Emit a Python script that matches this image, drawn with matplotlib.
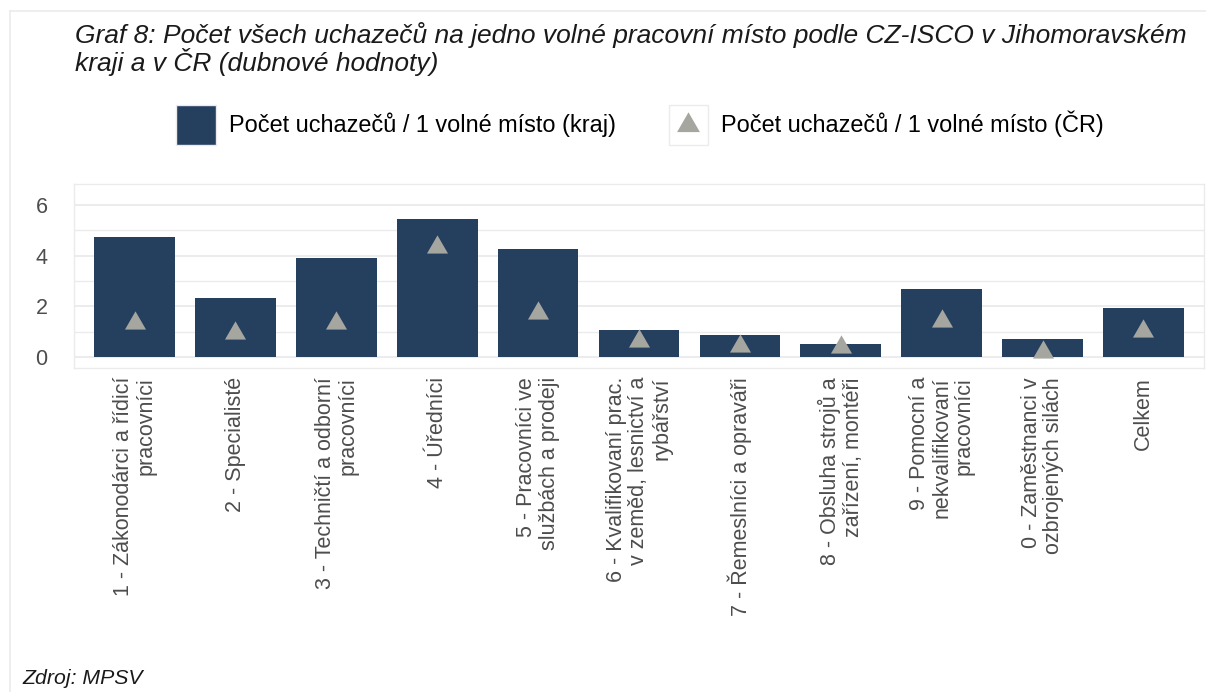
import matplotlib
matplotlib.use("Agg")
import matplotlib.pyplot as plt
from matplotlib.patches import Patch
from matplotlib.lines import Line2D
from matplotlib.legend_handler import HandlerTuple, HandlerLine2D
import numpy as np

plt.rcParams['font.family'] = ['Liberation Sans', 'DejaVu Sans']

categories = [
    "1 - Zákonodárci a řídicí\npracovníci",
    "2 - Specialisté",
    "3 - Techničtí a odborní\npracovníci",
    "4 - Úředníci",
    "5 - Pracovníci ve\nslužbách a prodeji",
    "6 - Kvalifikovaní prac.\nv zeměd, lesnictví a\nrybářství",
    "7 - Řemeslníci a opraváři",
    "8 - Obsluha strojů a\nzařízení, montéři",
    "9 - Pomocní a\nnekvalifikovaní\npracovníci",
    "0 - Zaměstnanci v\nozbrojených silách",
    "Celkem",
]
kraj = [4.75, 2.35, 3.90, 5.46, 4.25, 1.06, 0.87, 0.51, 2.70, 0.71, 1.93]
cr = [1.37, 0.94, 1.37, 4.35, 1.73, 0.66, 0.45, 0.39, 1.44, 0.22, 1.02]
y_ticks = [0, 2, 4, 6]
y_minor = [1, 3, 5]

label_kraj = "Počet uchazečů / 1 volné místo (kraj)"
label_cr = "Počet uchazečů / 1 volné místo (ČR)"
title = ("Graf 8: Počet všech uchazečů na jedno volné pracovní místo podle CZ-ISCO v Jihomoravském\n"
         "kraji a v ČR (dubnové hodnoty)")
source = "Zdroj: MPSV"

NAVY = "#253f5f"
GREY = "#a6a6a1"
GRID = "#ebebeb"
TXT = "#4d4d4d"

W, H = 1206, 692
fig = plt.figure(figsize=(W / 100, H / 100), dpi=100)
ax = fig.add_axes([74 / W, 1 - 368 / H, (1204 - 74) / W, (368 - 184) / H])

x = np.arange(len(categories))
tri = [(0, 2), (-1.732, -1), (1.732, -1)]

ax.set_axisbelow(True)
ax.bar(x, kraj, width=0.8, color=NAVY, zorder=2)
ax.plot(x, cr, linestyle='none', marker=tri, markersize=17.5, color=GREY,
        markeredgewidth=0, zorder=3)

ax.set_xlim(-0.6, 10.6)
ax.set_ylim(-0.42, 6.82)
ax.set_yticks(y_ticks)
ax.set_yticks(y_minor, minor=True)
ax.grid(True, which='major', axis='y', color=GRID, linewidth=1.3)
ax.grid(True, which='minor', axis='y', color=GRID, linewidth=1.0)
ax.set_xticks(x)
ax.set_xticklabels(categories, rotation=90, ha='center', va='top',
                   multialignment='right', fontsize=15.5, color=TXT,
                   linespacing=1.1)
ax.tick_params(axis='both', which='both', length=0, colors=TXT)
ax.tick_params(axis='x', pad=6.5)
ax.tick_params(axis='y', pad=19, labelsize=15.5)
for s in ax.spines.values():
    s.set_color(GRID)
    s.set_linewidth(1.0)

# title & source
fig.text(75 / W, 1 - 22 / H, title, ha='left', va='top', fontsize=19,
         style='italic', color='#1a1a1a', linespacing=1.0)
fig.text(22 / W, 1 - 688 / H, source, ha='left', va='bottom', fontsize=15.3,
         style='italic', color='#1a1a1a')

# outer frame (top & left)
fig.add_artist(Line2D([10 / W, 1], [1 - 11 / H, 1 - 11 / H], color=GRID, lw=1.2))
fig.add_artist(Line2D([10 / W, 10 / W], [0, 1 - 11 / H], color=GRID, lw=1.2))


class CenteredLineHandler(HandlerLine2D):
    def create_artists(self, legend, orig_handle, xdescent, ydescent,
                       width, height, fontsize, trans):
        arts = super().create_artists(legend, orig_handle, xdescent, ydescent,
                                      width, height, fontsize, trans)
        for a in arts:
            yd = np.asarray(a.get_ydata(), dtype=float)
            a.set_ydata(yd - ydescent / 2.0)
        return arts


# legend
h1 = Patch(facecolor=NAVY, edgecolor=GRID, linewidth=1.0)
box = Patch(facecolor='white', edgecolor=GRID, linewidth=1.0)
m2 = Line2D([], [], linestyle='none', marker=tri, markersize=19,
            color=GREY, markeredgewidth=0)
fig.legend([h1, (box, m2)], [label_kraj, label_cr],
           handler_map={tuple: HandlerTuple(ndivide=1, pad=0),
                        Line2D: CenteredLineHandler()},
           loc='center', bbox_to_anchor=(640 / W, 1 - 125 / H), ncol=2,
           frameon=False, fontsize=16.9, handlelength=1.70, handleheight=2.24,
           handletextpad=0.55, columnspacing=2.25, borderaxespad=0)

fig.savefig("out.png", dpi=100, facecolor='white')
